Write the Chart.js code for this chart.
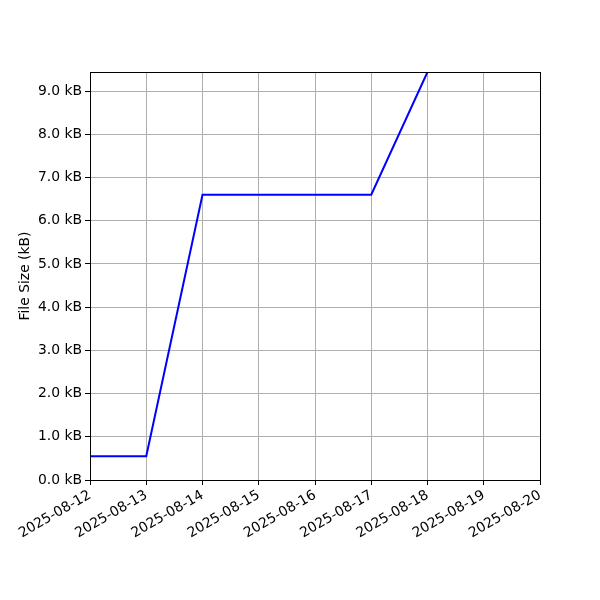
<!DOCTYPE html>
<html>
<head>
<meta charset="utf-8">
<script src="https://cdn.jsdelivr.net/npm/chart.js@4/dist/chart.umd.min.js"></script>
<style>
html,body{margin:0;padding:0;background:#fff;}
#wrap{width:600px;height:600px;position:relative;}
</style>
</head>
<body>
<div id="wrap"><canvas id="c" width="600" height="600"></canvas></div>
<script>
const dates = ["2025-08-12","2025-08-13","2025-08-14","2025-08-15","2025-08-16","2025-08-17","2025-08-18","2025-08-19","2025-08-20"];
const sizeKB = [0.55, 0.55, 6.6, 6.6, 6.6, 6.6, 9.44];
const yTicks = [0,1,2,3,4,5,6,7,8,9];
const yMax = 9.44;

Chart.defaults.font.family = "'DejaVu Sans', sans-serif";
Chart.defaults.font.size = 13.9;
Chart.defaults.color = '#000';

const frame = {
  id: 'frame',
  afterDatasetsDraw(chart) {
    const a = chart.chartArea, ctx = chart.ctx;
    ctx.save();
    ctx.strokeStyle = '#000';
    ctx.lineWidth = 1;
    ctx.strokeRect(Math.round(a.left)+0.5, Math.round(a.top)+0.5, Math.round(a.right-a.left), Math.round(a.bottom-a.top));
    ctx.restore();
  }
};

new Chart(document.getElementById('c'), {
  type: 'line',
  data: {
    labels: dates,
    datasets: [{
      data: sizeKB,
      borderColor: '#0000ff',
      borderWidth: 2,
      pointRadius: 0,
      tension: 0,
      fill: false
    }]
  },
  options: {
    responsive: false,
    animation: false,
    layout: { padding: { left: 0, right: 60, top: 72, bottom: 0 } },
    plugins: { legend: { display: false }, tooltip: { enabled: false } },
    scales: {
      x: {
        type: 'category',
        offset: false,
        grid: { color: '#b0b0b0', tickColor: '#000', tickLength: 5, offset: false },
        border: { color: '#000' },
        ticks: { minRotation: 30, maxRotation: 30, padding: 2, autoSkip: false, color: '#000' },
        afterFit(s) { s.height = 120; }
      },
      y: {
        min: 0,
        max: yMax,
        grid: { color: '#b0b0b0', tickColor: '#000', tickLength: 5 },
        border: { color: '#000' },
        afterBuildTicks(s) { s.ticks = yTicks.map(v => ({ value: v })); },
        ticks: { padding: 3, color: '#000', callback: v => v.toFixed(1) + ' kB' },
        title: { display: true, text: 'File Size (kB)', color: '#000', font: { size: 13.9 }, padding: { top: 17, bottom: 0 } },
        afterFit(s) { s.width = 90; }
      }
    }
  },
  plugins: [frame]
});
</script>
</body>
</html>
